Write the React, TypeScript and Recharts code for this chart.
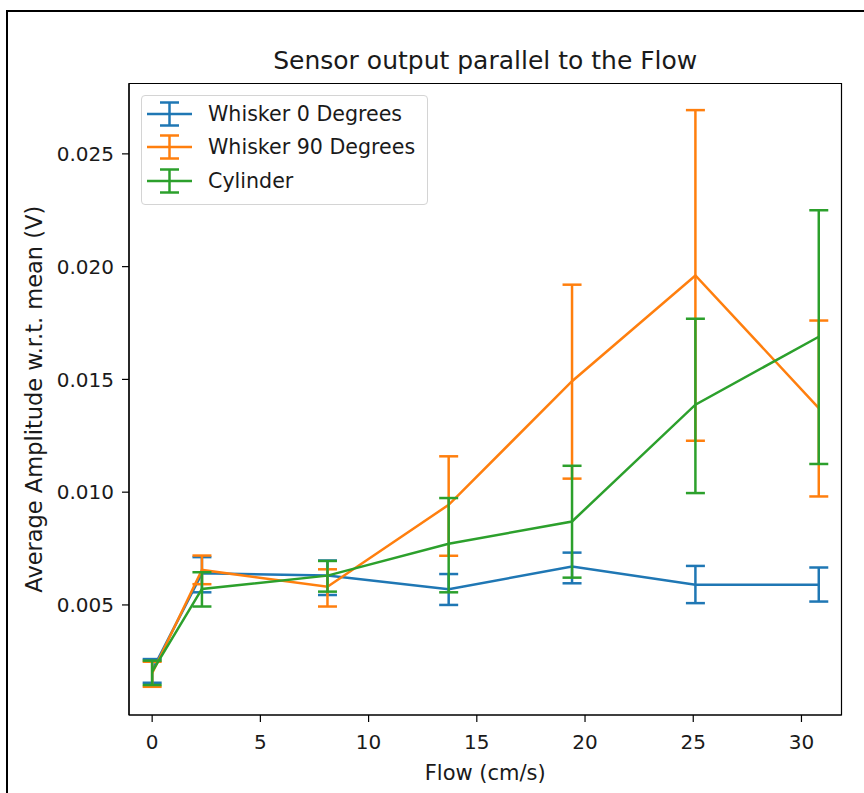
import { ErrorBar, Label, Legend, Line, LineChart, ReferenceArea, XAxis, YAxis } from "recharts";

// flow speeds (cm/s)
const flow = [0, 2.3, 8.1, 13.7, 19.4, 25.1, 30.8];
const xTicks = [0, 5, 10, 15, 20, 25, 30];
const yTicks = [0.005, 0.01, 0.015, 0.02, 0.025];
const xDomain = [-1.07, 31.85];
const yDomain = [0.00012, 0.02812];

// Whisker 0 Degrees
const whisker0Mean = [0.0021, 0.0064, 0.0063, 0.0057, 0.0067, 0.0059, 0.0059];
const whisker0Low = [0.00155, 0.00556, 0.00544, 0.005, 0.00596, 0.00508, 0.00515];
const whisker0High = [0.0026, 0.00712, 0.00697, 0.00637, 0.00732, 0.00673, 0.00666];

// Whisker 90 Degrees
const whisker90Mean = [0.00197, 0.00655, 0.00581, 0.00944, 0.01492, 0.01961, 0.01373];
const whisker90Low = [0.00137, 0.00592, 0.00493, 0.00718, 0.0106, 0.01228, 0.00981];
const whisker90High = [0.00248, 0.00719, 0.00658, 0.01159, 0.0192, 0.02694, 0.01761];

// Cylinder
const cylinderMean = [0.00204, 0.00571, 0.0063, 0.00771, 0.0087, 0.01388, 0.01689];
const cylinderLow = [0.00145, 0.00493, 0.00559, 0.00556, 0.00621, 0.00996, 0.01125];
const cylinderHigh = [0.00253, 0.00645, 0.00695, 0.00974, 0.01117, 0.01769, 0.0225];

const series = [
  { key: "w0", name: "Whisker 0 Degrees", color: "#1f77b4", mean: whisker0Mean, low: whisker0Low, high: whisker0High },
  { key: "w90", name: "Whisker 90 Degrees", color: "#ff7f0e", mean: whisker90Mean, low: whisker90Low, high: whisker90High },
  { key: "cyl", name: "Cylinder", color: "#2ca02c", mean: cylinderMean, low: cylinderLow, high: cylinderHigh },
];

const rows = flow.map((x, i) => {
  const row: Record<string, any> = { flow: x };
  series.forEach((s) => {
    row[s.key] = s.mean[i];
    row[s.key + "Err"] = [s.mean[i] - s.low[i], s.high[i] - s.mean[i]];
  });
  return row;
});

const FONT = "'DejaVu Sans', sans-serif";
const TEXT = "#1a1a1a";
const LW = 2.5;

function LegendIcon({ color }: { color: string }) {
  return (
    <svg width={46} height={26} style={{ display: "block" }}>
      <line x1={0} y1={13} x2={45} y2={13} stroke={color} strokeWidth={LW} />
      <line x1={22.5} y1={1.5} x2={22.5} y2={24.5} stroke={color} strokeWidth={LW} />
      <line x1={13} y1={1.5} x2={32} y2={1.5} stroke={color} strokeWidth={LW} />
      <line x1={13} y1={24.5} x2={32} y2={24.5} stroke={color} strokeWidth={LW} />
    </svg>
  );
}

function LegendBox() {
  return (
    <div
      style={{
        width: 285,
        height: 107,
        border: "1px solid #d4d4d4",
        borderRadius: 4,
        background: "rgba(255,255,255,0.85)",
        boxSizing: "content-box",
        paddingTop: 1,
      }}
    >
      {series.map((s) => (
        <div key={s.key} style={{ display: "flex", alignItems: "center", height: 33.6, paddingLeft: 5 }}>
          <LegendIcon color={s.color} />
          <span style={{ marginLeft: 15, fontSize: 20.6, color: TEXT, fontFamily: FONT, whiteSpace: "nowrap" }}>
            {s.name}
          </span>
        </div>
      ))}
    </div>
  );
}

export default function App() {
  return (
    <div style={{ position: "fixed", left: 0, top: 0, width: 864, height: 793, overflow: "hidden", background: "#fff", fontFamily: FONT }}>
      <div style={{ position: "absolute", left: 6, top: 10, width: 1000, height: 1000, border: "2px solid #000" }} />
      <div style={{ position: "absolute", left: 0, top: 0 }}>
        <LineChart width={864} height={793} data={rows} margin={{ top: 83.5, right: 22.5, bottom: 18, left: 0 }}>
          <XAxis
            dataKey="flow"
            type="number"
            domain={xDomain}
            ticks={xTicks}
            interval={0}
            allowDataOverflow
            height={60}
            tickSize={7}
            tickMargin={13}
            stroke="#000"
            strokeWidth={1.2}
            tick={{ fill: TEXT, fontSize: 20 }}
          >
            <Label
              content={({ viewBox }: any) => (
                <text x={viewBox.x + viewBox.width / 2} y={780} textAnchor="middle" fontSize={21} fill={TEXT}>
                  Flow (cm/s)
                </text>
              )}
            />
          </XAxis>
          <YAxis
            type="number"
            domain={yDomain}
            ticks={yTicks}
            interval={0}
            allowDataOverflow
            width={129}
            tickSize={7}
            tickMargin={8}
            stroke="#000"
            strokeWidth={1.2}
            tick={{ fill: TEXT, fontSize: 20 }}
            tickFormatter={(v: number) => v.toFixed(3)}
          >
            <Label
              content={({ viewBox }: any) => {
                const cx = 34;
                const cy = viewBox.y + viewBox.height / 2;
                return (
                  <text
                    x={cx}
                    y={cy}
                    transform={`rotate(-90 ${cx} ${cy})`}
                    textAnchor="middle"
                    dominantBaseline="central"
                    fontSize={22.5}
                    fill={TEXT}
                  >
                    Average Amplitude w.r.t. mean (V)
                  </text>
                );
              }}
            />
          </YAxis>
          {/* full plot frame (top/right spines) + title */}
          <ReferenceArea
            x1={xDomain[0]}
            x2={xDomain[1]}
            y1={yDomain[0]}
            y2={yDomain[1]}
            fill="none"
            fillOpacity={0}
            stroke="#000"
            strokeWidth={1.2}
            ifOverflow="visible"
          >
            <Label
              content={({ viewBox }: any) => (
                <text x={viewBox.x + viewBox.width / 2} y={68.5} textAnchor="middle" fontSize={25} fill={TEXT}>
                  Sensor output parallel to the Flow
                </text>
              )}
            />
          </ReferenceArea>
          {series.map((s) => (
            <Line
              key={s.key}
              type="linear"
              dataKey={s.key}
              name={s.name}
              stroke={s.color}
              strokeWidth={LW}
              dot={false}
              activeDot={false}
              isAnimationActive={false}
            >
              <ErrorBar dataKey={s.key + "Err"} direction="y" width={9.5} stroke={s.color} strokeWidth={LW} />
            </Line>
          ))}
          <Legend
            layout="vertical"
            align="center"
            verticalAlign="middle"
            content={() => <LegendBox />}
            wrapperStyle={{ position: "absolute", left: 141, top: 95, width: "auto", height: "auto" }}
          />
        </LineChart>
      </div>
    </div>
  );
}
